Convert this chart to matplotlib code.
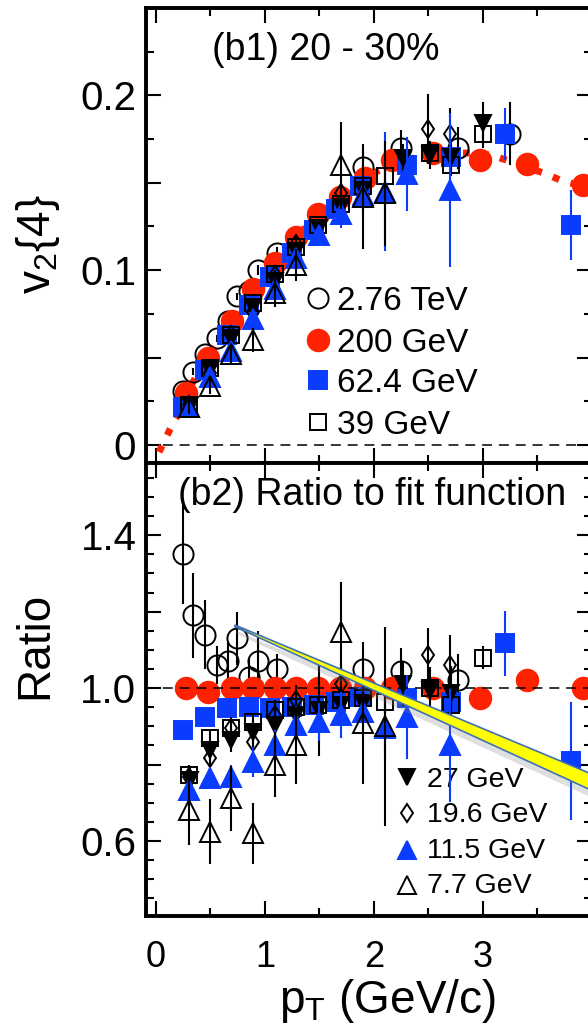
import numpy as np
import matplotlib
matplotlib.use('Agg')
import matplotlib.pyplot as plt
from matplotlib.patches import Polygon
from matplotlib.ticker import MultipleLocator

plt.rcParams['font.family'] = ['Liberation Sans', 'DejaVu Sans']
plt.rcParams['mathtext.fontset'] = 'custom'
plt.rcParams['mathtext.rm'] = 'Liberation Sans'
plt.rcParams['mathtext.it'] = 'Liberation Sans'
plt.rcParams['mathtext.default'] = 'regular'

RED = '#ff2200'
BLUE = '#0a3cff'

# ---- data ----
# 200 GeV fit function (red dotted)
fit_pt = [0.03, 0.13, 0.20, 0.28, 0.48, 0.70, 0.89, 1.09, 1.29, 1.49, 1.69, 1.92, 2.17, 2.54, 2.97, 3.12, 3.40, 3.58, 3.73, 3.92, 4.05]
fit_v2 = [-0.004, 0.009, 0.017, 0.030, 0.050, 0.071, 0.089, 0.104, 0.119, 0.132, 0.142, 0.153, 0.161, 0.167, 0.167, 0.165, 0.159, 0.155, 0.151, 0.148, 0.145]

# 2.76 TeV
pt_276 = [0.25, 0.34, 0.45, 0.56, 0.66, 0.74, 0.85, 0.94, 1.11, 1.90, 2.25, 2.77, 3.25]
v2_276 = [0.031, 0.042, 0.052, 0.061, 0.071, 0.085, 0.088, 0.100, 0.110, 0.159, 0.170, 0.170, 0.178]
v2e_276 = [0.002, 0.002, 0.002, 0.002, 0.002, 0.002, 0.002, 0.003, 0.003, 0.010, 0.010, 0.012, 0.018]
r_276 = [1.35, 1.19, 1.14, 1.06, 1.07, 1.13, 1.03, 1.07, 1.05, 1.05, 1.045, 1.02, np.nan]
re_276 = [0.13, 0.11, 0.09, 0.05, 0.05, 0.07, 0.05, 0.08, 0.04, 0.07, 0.06, 0.07, 0.0]

# 200 GeV
pt_200 = [0.28, 0.48, 0.70, 0.89, 1.09, 1.29, 1.49, 1.69, 1.92, 2.17, 2.54, 2.97, 3.40, 3.92]
v2_200 = [0.030, 0.050, 0.071, 0.089, 0.104, 0.119, 0.132, 0.142, 0.153, 0.163, 0.167, 0.163, 0.161, 0.149]
r_200 = [1.0, 0.99, 1.0, 1.0, 1.0, 1.0, 1.0, 1.0, 1.0, 1.0, 1.0, 0.975, 1.02, 1.0]

# 62.4 GeV
pt_624 = [0.25, 0.45, 0.65, 0.85, 1.05, 1.25, 1.45, 1.65, 1.87, 2.30, 2.71, 3.20, 3.81]
v2_624 = [0.022, 0.043, 0.063, 0.080, 0.096, 0.110, 0.123, 0.135, 0.148, 0.160, 0.165, 0.178, 0.126]
v2e_624 = [0.001, 0.001, 0.001, 0.001, 0.002, 0.002, 0.002, 0.003, 0.003, 0.005, 0.006, 0.015, 0.020]
r_624 = [0.89, 0.925, 0.947, 0.951, 0.947, 0.951, 0.955, 0.964, 0.977, 0.974, 0.964, 1.117, 0.81]
re_624 = [0.01, 0.01, 0.01, 0.01, 0.01, 0.01, 0.015, 0.015, 0.02, 0.03, 0.04, 0.085, 0.155]

# 39 GeV
pt_39 = [0.30, 0.50, 0.69, 0.89, 1.09, 1.29, 1.49, 1.70, 1.90, 2.10, 2.51, 2.71, 3.00]
v2_39 = [0.023, 0.044, 0.063, 0.081, 0.098, 0.113, 0.126, 0.138, 0.148, 0.154, 0.167, 0.160, 0.178]
v2e_39 = [0.001, 0.001, 0.001, 0.001, 0.002, 0.002, 0.002, 0.003, 0.003, 0.004, 0.005, 0.006, 0.008]
r_39 = [0.773, 0.869, 0.895, 0.912, 0.943, 0.951, 0.955, 0.969, 0.975, 0.964, 1.0, 0.955, 1.08]
re_39 = [0.02, 0.02, 0.02, 0.02, 0.02, 0.02, 0.02, 0.02, 0.03, 0.03, 0.03, 0.04, 0.03]

# 27 GeV
pt_27 = [0.31, 0.50, 0.69, 0.89, 1.09, 1.29, 1.50, 1.70, 1.90, 2.27, 2.51, 2.71, 3.00]
v2_27 = [0.023, 0.043, 0.061, 0.079, 0.094, 0.111, 0.124, 0.136, 0.146, 0.164, 0.166, 0.165, 0.184]
v2e_27 = [0.002, 0.002, 0.002, 0.002, 0.003, 0.003, 0.004, 0.005, 0.006, 0.008, 0.008, 0.010, 0.012]
r_27 = [0.76, 0.838, 0.864, 0.886, 0.903, 0.93, 0.943, 0.955, 0.96, 1.012, 0.995, 0.987, np.nan]
re_27 = [0.03, 0.03, 0.03, 0.03, 0.04, 0.04, 0.12, 0.05, 0.05, 0.06, 0.06, 0.07, 0.0]

# 19.6 GeV
pt_196 = [0.30, 0.50, 0.69, 0.89, 1.09, 1.29, 1.70, 2.50, 2.70]
v2_196 = [0.023, 0.041, 0.063, 0.076, 0.097, 0.115, 0.144, 0.181, 0.178]
v2e_196 = [0.002, 0.002, 0.002, 0.003, 0.003, 0.004, 0.006, 0.020, 0.015]
r_196 = [0.768, 0.817, 0.895, 0.86, 0.93, 0.969, 1.012, 1.086, 1.06]
re_196 = [0.03, 0.03, 0.03, 0.03, 0.04, 0.04, 0.05, 0.07, 0.08]

# 11.5 GeV
pt_115 = [0.30, 0.50, 0.69, 0.89, 1.09, 1.29, 1.50, 1.70, 1.90, 2.10, 2.30, 2.70]
v2_115 = [0.022, 0.039, 0.054, 0.072, 0.089, 0.107, 0.120, 0.132, 0.143, 0.145, 0.155, 0.146]
v2e_115 = [0.002, 0.002, 0.003, 0.003, 0.004, 0.005, 0.006, 0.008, 0.010, 0.034, 0.021, 0.044]
r_115 = [0.733, 0.765, 0.768, 0.807, 0.851, 0.903, 0.912, 0.929, 0.938, 0.895, 0.925, 0.851]
re_115 = [0.03, 0.03, 0.03, 0.04, 0.04, 0.05, 0.05, 0.06, 0.06, 0.08, 0.11, 0.15]

# 7.7 GeV
pt_77 = [0.30, 0.50, 0.69, 0.89, 1.09, 1.29, 1.70, 1.90, 2.10]
v2_77 = [0.022, 0.034, 0.052, 0.060, 0.087, 0.103, 0.160, 0.142, 0.144]
v2e_77 = [0.004, 0.005, 0.006, 0.007, 0.008, 0.009, 0.025, 0.030, 0.030]
r_77 = [0.681, 0.624, 0.712, 0.62, 0.80, 0.85, 1.147, 0.908, 0.90]
re_77 = [0.09, 0.085, 0.085, 0.08, 0.085, 0.10, 0.13, 0.16, 0.26]

xtick_vals = [0, 1, 2, 3]

# label, marker, markersize, face, edge, errcolor
styles = [
    ('2.76 TeV', 'o', 14.5, 'none', 'black', 'black'),
    ('200 GeV', 'o', 15.5, RED, RED, RED),
    ('62.4 GeV', 's', 13, BLUE, BLUE, BLUE),
    ('39 GeV', 's', 12, 'none', 'black', 'black'),
    ('27 GeV', 'v', 11.5, 'black', 'black', 'black'),
    ('19.6 GeV', 'd', 9.5, 'none', 'black', 'black'),
    ('11.5 GeV', '^', 14, BLUE, BLUE, BLUE),
    ('7.7 GeV', '^', 15, 'none', 'black', 'black'),
]
top_data = [
    (pt_276, v2_276, v2e_276), (pt_200, v2_200, None), (pt_624, v2_624, v2e_624),
    (pt_39, v2_39, v2e_39), (pt_27, v2_27, v2e_27), (pt_196, v2_196, v2e_196),
    (pt_115, v2_115, v2e_115), (pt_77, v2_77, v2e_77),
]
bot_data = [
    (pt_276, r_276, re_276), (pt_200, r_200, None), (pt_624, r_624, re_624),
    (pt_39, r_39, re_39), (pt_27, r_27, re_27), (pt_196, r_196, re_196),
    (pt_115, r_115, re_115), (pt_77, r_77, re_77),
]

fig = plt.figure(figsize=(5.88, 10.34), dpi=100)
ax1 = fig.add_axes([0.2483, 0.5527, 0.7585, 0.4396])
ax2 = fig.add_axes([0.2483, 0.1141, 0.7585, 0.4386])


def draw(ax, x, y, e, st, z):
    lab, mk, ms, fc, ec, erc = st
    if e is not None:
        ax.errorbar(x, y, yerr=e, fmt='none', ecolor=erc, elinewidth=1.5,
                    capsize=0, zorder=z - 0.5)
    ax.plot(x, y, ls='none', marker=mk, ms=ms, mfc=fc, mec=ec, mew=1.4, zorder=z)


for i, (st, d) in enumerate(zip(styles, top_data)):
    draw(ax1, d[0], d[1], d[2], st, 3 + i)
for i, (st, d) in enumerate(zip(styles, bot_data)):
    draw(ax2, d[0], d[1], d[2], st, 3 + i)

ax1.plot(fit_pt, fit_v2, color=RED, lw=5, ls=(0, (1.0, 1.7)), zorder=2.5)
ax1.axhline(0, color='black', lw=1.1, ls=(0, (6.5, 4.5)), zorder=20)
ax2.axhline(1.0, color='black', lw=1.1, ls=(0, (6.5, 4.5)), zorder=20)

for ax in (ax1, ax2):
    ax.set_xlim(-0.09, 4.0)
    ax.set_xticks(xtick_vals)
    ax.xaxis.set_minor_locator(MultipleLocator(0.5))
    ax.tick_params(which='both', direction='in', top=True, right=True, width=1.5)
    ax.tick_params(which='major', length=11)
    ax.tick_params(which='minor', length=5.5)
    ax.tick_params(axis='y', labelsize=29, pad=7)
    ax.tick_params(axis='x', labelsize=26, pad=17)
    for s in ax.spines.values():
        s.set_linewidth(2.8)

ax1.set_ylim(-0.01, 0.25)
ax1.set_yticks([0, 0.05, 0.1, 0.15, 0.2])
ax1.set_yticklabels(['0', '', '0.1', '', '0.2'])
ax1.yaxis.set_minor_locator(MultipleLocator(0.025))
ax1.tick_params(axis='x', labelbottom=False)

ax2.set_ylim(0.404, 1.59)
ax2.set_yticks([0.6, 0.8, 1.0, 1.2, 1.4])
ax2.set_yticklabels(['0.6', '', '1.0', '', '1.4'])
ax2.yaxis.set_minor_locator(MultipleLocator(0.05))

ax1.text(0.148, 0.886, '(b1) 20 - 30%', transform=ax1.transAxes, fontsize=27)
ax2.text(0.0717, 0.906, '(b2) Ratio to fit function', transform=ax2.transAxes, fontsize=27)

# legends
leg_top = [(0, 0.361, 0.3355), (1, 0.270, 0.243), (2, 0.182, 0.155), (3, 0.0898, 0.0627)]
for k, my, ty in leg_top:
    lab, mk, ms, fc, ec, erc = styles[k]
    ax1.plot([0.386], [my], transform=ax1.transAxes, ls='none', marker=mk,
             ms=ms, mfc=fc, mec=ec, mew=1.4, clip_on=False, zorder=30)
    ax1.text(0.428, ty, lab, transform=ax1.transAxes, fontsize=24)

leg_bot = [(4, 0.3065, 0.2845), (5, 0.227, 0.207), (6, 0.1455, 0.1279), (7, 0.068, 0.0507)]
leg_ms = {4: 11, 5: 9.5, 6: 13, 7: 13}
for k, my, ty in leg_bot:
    lab, mk, ms, fc, ec, erc = styles[k]
    ax2.plot([0.5845], [my], transform=ax2.transAxes, ls='none', marker=mk,
             ms=leg_ms[k], mfc=fc, mec=ec, mew=1.4, clip_on=False, zorder=30)
    ax2.text(0.629, ty, lab, transform=ax2.transAxes, fontsize=20.5)

# yellow pointer line drawn over the ratio panel
shadow = Polygon([(0.74, 1.150), (4.1, 0.745), (4.1, 0.700), (0.74, 1.142)],
                 closed=True, facecolor='gray', edgecolor='none', alpha=0.25, zorder=39)
ax2.add_patch(shadow)
pointer = Polygon([(0.725, 1.165), (4.1, 0.763), (4.1, 0.719), (0.725, 1.161)],
                  closed=True, facecolor='#ffff00', edgecolor='#3f72b5', lw=1.2, zorder=40)
ax2.add_patch(pointer)

fig.text(0.0646, 0.764, r'v$_2${4}', rotation=90, ha='center', va='center', fontsize=33)
fig.text(0.0595, 0.376, 'Ratio', rotation=90, ha='center', va='center', fontsize=33)
fig.text(0.659, 0.0203, r'p$_T$ (GeV/c)', ha='center', va='baseline', fontsize=33)

fig.savefig('out.png', dpi=100)
